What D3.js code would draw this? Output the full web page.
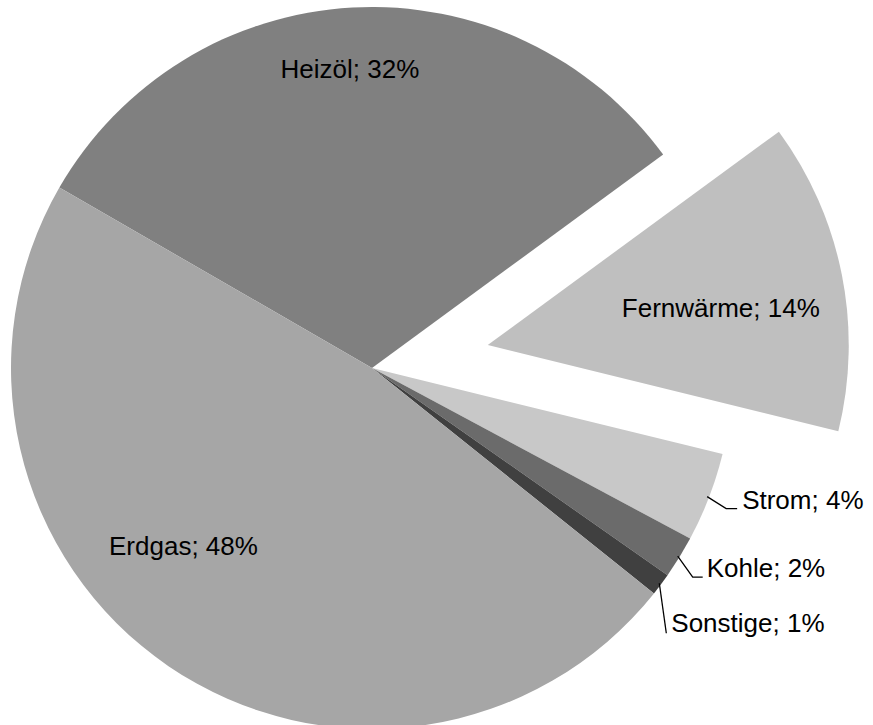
<!DOCTYPE html>
<html>
<head>
<meta charset="utf-8">
<script src="https://cdn.jsdelivr.net/npm/d3@7"></script>
<style>
  html, body { margin: 0; padding: 0; background: #fff; }
  svg { display: block; }
  text { font-family: "Liberation Sans", Arial, sans-serif; font-size: 26px; fill: #000; }
</style>
</head>
<body>
<svg id="pie"></svg>
<script>
// data, clockwise from the Heizöl slice
const categories = ['Heizöl', 'Fernwärme', 'Strom', 'Kohle', 'Sonstige', 'Erdgas'];
const shares = [31.6, 13.9, 4.0, 1.9, 1.0, 47.6];
const colors = ['#808080', '#bfbfbf', '#c8c8c8', '#6b6b6b', '#404040', '#a6a6a6'];
const exploded = ['Fernwärme'];

const W = 873, H = 725;
const cx = 372, cy = 368, R = 361;
const explodeBy = 118;
const startDeg = -60;

// label placement: inner labels as polar (angle shift in deg, radius),
// outer labels with a leader line (elbow and text offsets from the arc edge)
const innerLabels = {
  'Heizöl': { shift: -1.1, r: 300 },
  'Fernwärme': { shift: 2.2, r: 236 },
  'Erdgas': { shift: 12.4, r: 259 }
};
const outerLabels = {
  'Strom': { elbow: [19, 12], end: 30, text: [35, 12] },
  'Kohle': { elbow: [15, 21], end: 25, text: [29, 21] },
  'Sonstige': { elbow: [7, 50], end: 7, text: [12, 49] }
};

const svg = d3.select('#pie').attr('width', W).attr('height', H);
const g = svg.append('g').attr('transform', `translate(${cx},${cy})`);

const total = d3.sum(shares);
const rad = d => d * Math.PI / 180;

const pie = d3.pie()
  .sort(null)
  .value(d => d.v)
  .startAngle(rad(startDeg))
  .endAngle(rad(startDeg) + 2 * Math.PI);

const arcs = pie(categories.map((c, i) => ({ c, v: shares[i], color: colors[i] })));
const arc = d3.arc().innerRadius(0).outerRadius(R);

const mid = d => (d.startAngle + d.endAngle) / 2;
const polar = (a, r) => [r * Math.sin(a), -r * Math.cos(a)];
const offsetOf = d => exploded.includes(d.data.c) ? polar(mid(d), explodeBy) : [0, 0];

const slices = g.selectAll('g.slice')
  .data(arcs)
  .enter()
  .append('g')
  .attr('class', 'slice')
  .attr('transform', d => `translate(${offsetOf(d)})`);

slices.append('path')
  .attr('d', arc)
  .attr('fill', d => d.data.color);

const label = d => `${d.data.c}; ${Math.round(d.data.v / total * 100)}%`;

slices.filter(d => innerLabels[d.data.c])
  .append('text')
  .attr('text-anchor', 'middle')
  .attr('dy', '0.35em')
  .attr('transform', d => {
    const p = innerLabels[d.data.c];
    return `translate(${polar(mid(d) + rad(p.shift), p.r)})`;
  })
  .text(label);

const outer = slices.filter(d => outerLabels[d.data.c]);

outer.append('path')
  .attr('fill', 'none')
  .attr('stroke', '#000')
  .attr('stroke-width', 1.3)
  .attr('d', d => {
    const p = outerLabels[d.data.c];
    const [x0, y0] = polar(mid(d), R - 2);
    return d3.line()([
      [x0, y0],
      [x0 + p.elbow[0], y0 + p.elbow[1]],
      [x0 + p.end, y0 + p.elbow[1]]
    ]);
  });

outer.append('text')
  .attr('x', d => polar(mid(d), R - 2)[0] + outerLabels[d.data.c].text[0])
  .attr('y', d => polar(mid(d), R - 2)[1] + outerLabels[d.data.c].text[1])
  .text(label);
</script>
</body>
</html>
